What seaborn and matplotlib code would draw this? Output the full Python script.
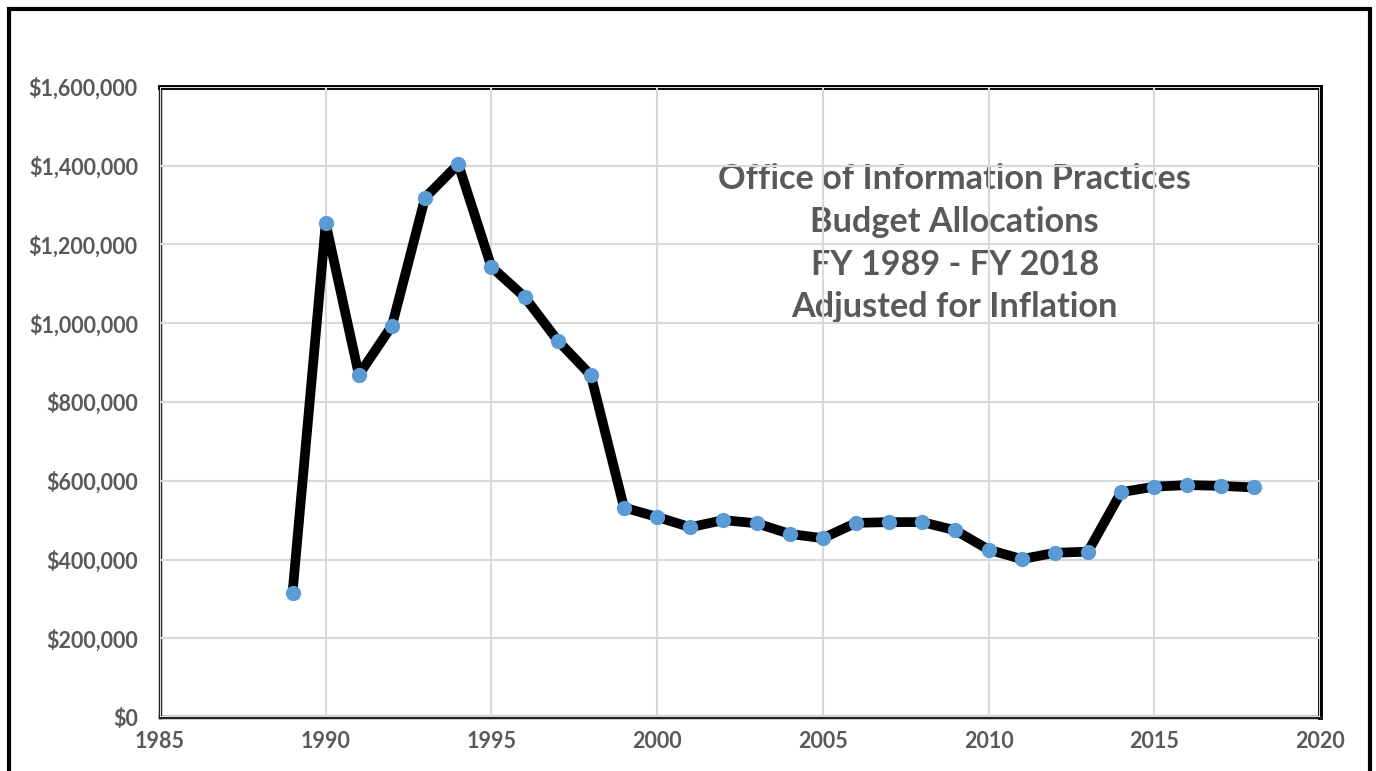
import numpy as np
import pandas as pd
import matplotlib.pyplot as plt
import matplotlib.patches as patches
from matplotlib.ticker import FuncFormatter
import seaborn as sns

# Yearly budget allocation (inflation adjusted)
years = [1989, 1990, 1991, 1992, 1993, 1994, 1995, 1996, 1997, 1998,
         1999, 2000, 2001, 2002, 2003, 2004, 2005, 2006, 2007, 2008,
         2009, 2010, 2011, 2012, 2013, 2014, 2015, 2016, 2017, 2018]
budget = [316000, 1254000, 869000, 994000, 1319000, 1404000, 1143000, 1067000, 956000, 868000,
          532000, 508000, 482000, 500000, 492000, 465000, 454000, 493000, 495000, 495000,
          474000, 425000, 401000, 417000, 420000, 571000, 585000, 589000, 587000, 583000]

title_lines = ["Office of Information Practices", "Budget Allocations",
               "FY 1989 - FY 2018", "Adjusted for Inflation"]

df = pd.DataFrame({"year": years, "budget": budget})

sns.set_style("white")
plt.rcParams['font.family'] = ['Lato', 'DejaVu Sans']

text_color = '#595959'
grid_color = '#d9d9d9'

fig = plt.figure(figsize=(13.76, 7.71), dpi=100)
ax = fig.add_axes([160 / 1376, 1 - 717 / 771, 1160 / 1376, 630 / 771])

sns.lineplot(data=df, x="year", y="budget", ax=ax, color='black', linewidth=7,
             marker='o', markersize=11, markerfacecolor='#5b9bd5', markeredgewidth=0,
             zorder=3)

ax.set_xlim(1985, 2020)
ax.set_ylim(0, 1600000)
ax.set_xticks(range(1985, 2021, 5))
ax.set_yticks(range(0, 1600001, 200000))
ax.yaxis.set_major_formatter(FuncFormatter(lambda v, p: f"${v:,.0f}"))
ax.set_xlabel("")
ax.set_ylabel("")

ax.grid(True, color=grid_color, linewidth=1.5)
ax.set_axisbelow(False)
for gl in ax.get_xgridlines() + ax.get_ygridlines():
    gl.set_zorder(1)

ax.tick_params(axis='both', length=0, labelsize=15.5, labelcolor=text_color, pad=10)
for lbl in ax.get_xticklabels() + ax.get_yticklabels():
    lbl.set_fontweight('bold')
ax.tick_params(axis='y', pad=16)

# frame: heavy top/right, lighter left/bottom
for side in ['top', 'right']:
    ax.spines[side].set_linewidth(3.5)
    ax.spines[side].set_color('black')
for side in ['left', 'bottom']:
    ax.spines[side].set_linewidth(2.5)
    ax.spines[side].set_color('#222222')

# title inside the plot, behind gridlines
ax.text(0.685, 0.752, "\n".join(title_lines), transform=ax.transAxes,
        ha='center', va='center', fontsize=24.7, fontweight='bold',
        color=text_color, linespacing=1.41, zorder=0.5)

# outer border around the whole chart
fig.patches.append(patches.Rectangle((9 / 1376, -0.05), 1361 / 1376, 1.05 - 9 / 771,
                                     transform=fig.transFigure, fill=False,
                                     edgecolor='black', linewidth=3, clip_on=False))

fig.savefig("out.png", dpi=100)
